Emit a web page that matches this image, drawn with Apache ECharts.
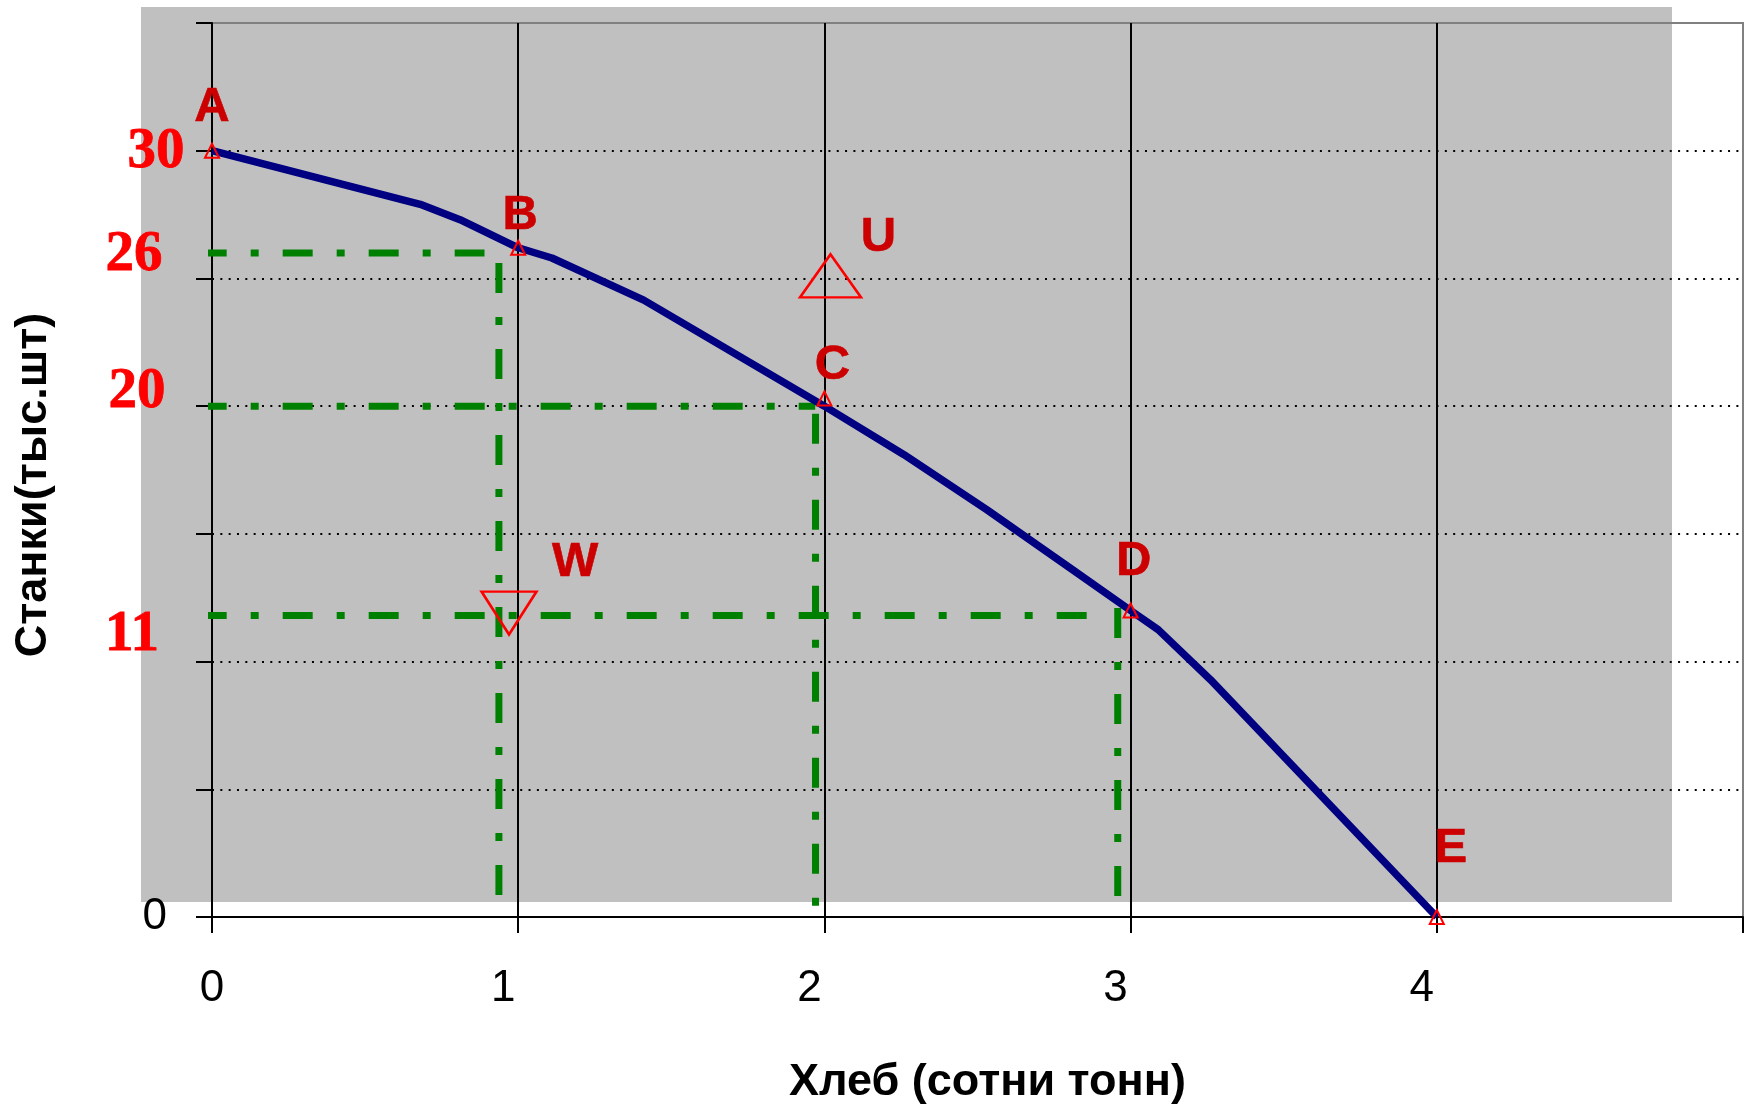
<!DOCTYPE html>
<html>
<head>
<meta charset="utf-8">
<title>КПВ</title>
<script src="https://cdn.jsdelivr.net/npm/echarts@6/dist/echarts.min.js"></script>
<style>
  html, body { margin: 0; padding: 0; background: #fff; }
  #chart { width: 1749px; height: 1110px; }
</style>
</head>
<body>
<div id="chart"></div>
<script>
// кривая производственных возможностей (хлеб / станки)
const curveX = [0, 0.68, 0.81, 1.0, 1.11, 1.41, 2.0, 2.26, 2.53, 2.81, 3.0, 3.09, 3.26, 4.0];
const curveY = [30, 27.9, 27.3, 26.2, 25.8, 24.15, 20.0, 18.1, 15.95, 13.6, 12.0, 11.25, 9.3, 0];

// отмеченные точки на кривой
const pointNames = ['A', 'B', 'C', 'D', 'E'];
const pointX = [0, 1, 2, 3, 4];
const pointY = [30, 26.2, 20.3, 12, 0];

// точки вне кривой
const extraNames = ['U', 'W'];
const extraX = [2.02, 0.97];
const extraY = [25.1, 11.9];

// зелёные вспомогательные линии
const guideLevel = [26, 20, 11.8];
const guideStartX = -0.05;
const guideEndX = [0.89, 1.97, 2.91];
const guideVX = [0.937, 1.971, 2.958];
const guideVTop = [25.6, 19.7, 12.1];
const guideVBottom = [0.25, 0, 0.3];

// красные подписи уровней на оси Y
const levelLabels = ['30', '26', '20', '11'];
const levelValues = [30, 26, 20, 11];

const xTickLabels = ['0', '1', '2', '3', '4'];

const SANS = '"Liberation Sans", Arial, sans-serif';
const SERIF = '"Liberation Serif", "Times New Roman", serif';

const chart = echarts.init(document.getElementById('chart'));

const pointOffsets = [[0, -43], [2, -32], [8, -33], [3, -49], [14, -69]];
const extraOffsets = [[48, -38], [66, -51]];
const levelOffsets = [[-56, 2], [-78, 2], [-75, -14], [-80, -1]];

const letterLabel = {
  show: true,
  position: 'inside',
  formatter: '{b}',
  color: '#CC0000',
  opacity: 1,
  fontSize: 49,
  fontWeight: 'bold',
  fontFamily: SANS,
  textBorderWidth: 0.6,
  textBorderColor: '#CC0000'
};

const guideStyle = { color: '#008000', width: 7, type: [30, 24, 8, 24] };

const guideSeries = [];
guideLevel.forEach((lv, i) => {
  guideSeries.push({
    type: 'line', silent: true, clip: false, symbol: 'none', z: 2,
    lineStyle: guideStyle,
    data: [[guideStartX, lv], [guideEndX[i], lv]]
  });
  guideSeries.push({
    type: 'line', silent: true, clip: false, symbol: 'none', z: 2,
    lineStyle: guideStyle,
    data: [[guideVX[i], guideVTop[i]], [guideVX[i], guideVBottom[i]]]
  });
});

const option = {
  animation: false,
  backgroundColor: '#fff',
  grid: {
    left: 212, right: 6, top: 23, bottom: 193,
    show: true,
    backgroundColor: 'transparent',
    borderColor: '#808080',
    borderWidth: 2,
    outerBoundsMode: 'none'
  },
  graphic: [{
    type: 'rect', z: -10, silent: true,
    shape: { x: 141, y: 7, width: 1531, height: 895 },
    style: { fill: '#C0C0C0' }
  }],
  xAxis: {
    type: 'value', min: 0, max: 5, interval: 1,
    name: 'Хлеб (сотни тонн)',
    nameLocation: 'middle',
    nameGap: 143,
    nameTextStyle: { fontSize: 45, fontWeight: 'bold', color: '#000', fontFamily: SANS, padding: [0, 0, 0, 20] },
    axisLine: { lineStyle: { color: '#000', width: 2 } },
    axisTick: { length: 16, lineStyle: { color: '#000', width: 2 } },
    axisLabel: {
      margin: 50,
      color: '#000', fontSize: 44, fontFamily: SANS,
      formatter: v => {
        const s = xTickLabels[v];
        if (s === undefined) return '';
        return v === 0 ? s : '{s|' + s + '}';
      },
      rich: { s: { fontSize: 44, fontFamily: SANS, color: '#000', padding: [0, 30, 0, 0] } }
    },
    splitLine: { show: true, showMaxLine: false, lineStyle: { color: '#000', width: 2, type: 'solid' } }
  },
  yAxis: {
    type: 'value', min: 0, max: 35, interval: 5,
    name: 'Станки(тыс.шт)',
    nameLocation: 'middle',
    nameRotate: 90,
    nameGap: 156,
    nameTextStyle: { fontSize: 45, fontWeight: 'bold', color: '#000', fontFamily: SANS, padding: [0, 30, 0, 0] },
    axisLine: { lineStyle: { color: '#000', width: 2 } },
    axisTick: { length: 16, lineStyle: { color: '#000', width: 2 } },
    axisLabel: {
      margin: 45, color: '#000', fontSize: 44, fontFamily: SANS,
      formatter: v => (v === 0 ? '0' : '')
    },
    splitLine: { show: true, showMinLine: false, showMaxLine: false, lineStyle: { color: '#000', width: 2, type: [2, 6.33] } }
  },
  series: [
    ...guideSeries,
    {
      type: 'line', name: 'КПВ', silent: true, showSymbol: false, symbol: 'none', z: 3,
      lineStyle: { color: '#000080', width: 7.5 },
      data: curveX.map((x, i) => [x, curveY[i]])
    },
    {
      type: 'scatter', clip: false, silent: true, z: 4,
      symbol: 'triangle', symbolSize: 14,
      itemStyle: { color: 'transparent', borderColor: '#FF0000', borderWidth: 2, opacity: 1 },
      label: letterLabel,
      data: pointNames.map((n, i) => ({ name: n, value: [pointX[i], pointY[i]], label: { offset: pointOffsets[i] } }))
    },
    {
      type: 'scatter', clip: false, silent: true, z: 4,
      symbol: 'triangle',
      itemStyle: { color: 'transparent', borderColor: '#FF0000', borderWidth: 2.5, opacity: 1 },
      label: letterLabel,
      data: extraNames.map((n, i) => ({
        name: n, value: [extraX[i], extraY[i]],
        symbolSize: i === 0 ? [61, 43] : [55, 43],
        symbolRotate: i === 0 ? 0 : 180,
        label: { offset: extraOffsets[i] }
      }))
    },
    {
      type: 'scatter', clip: false, silent: true, z: 4,
      symbol: 'circle', symbolSize: 0,
      itemStyle: { opacity: 1 },
      label: {
        show: true, position: 'inside', formatter: '{b}', opacity: 1,
        color: '#FF0000', fontSize: 57, fontWeight: 'bold', fontFamily: SERIF,
        textBorderWidth: 0.8, textBorderColor: '#FF0000'
      },
      data: levelLabels.map((t, i) => ({ name: t, value: [0, levelValues[i]], label: { offset: levelOffsets[i] } }))
    }
  ]
};

chart.setOption(option);
</script>
</body>
</html>
